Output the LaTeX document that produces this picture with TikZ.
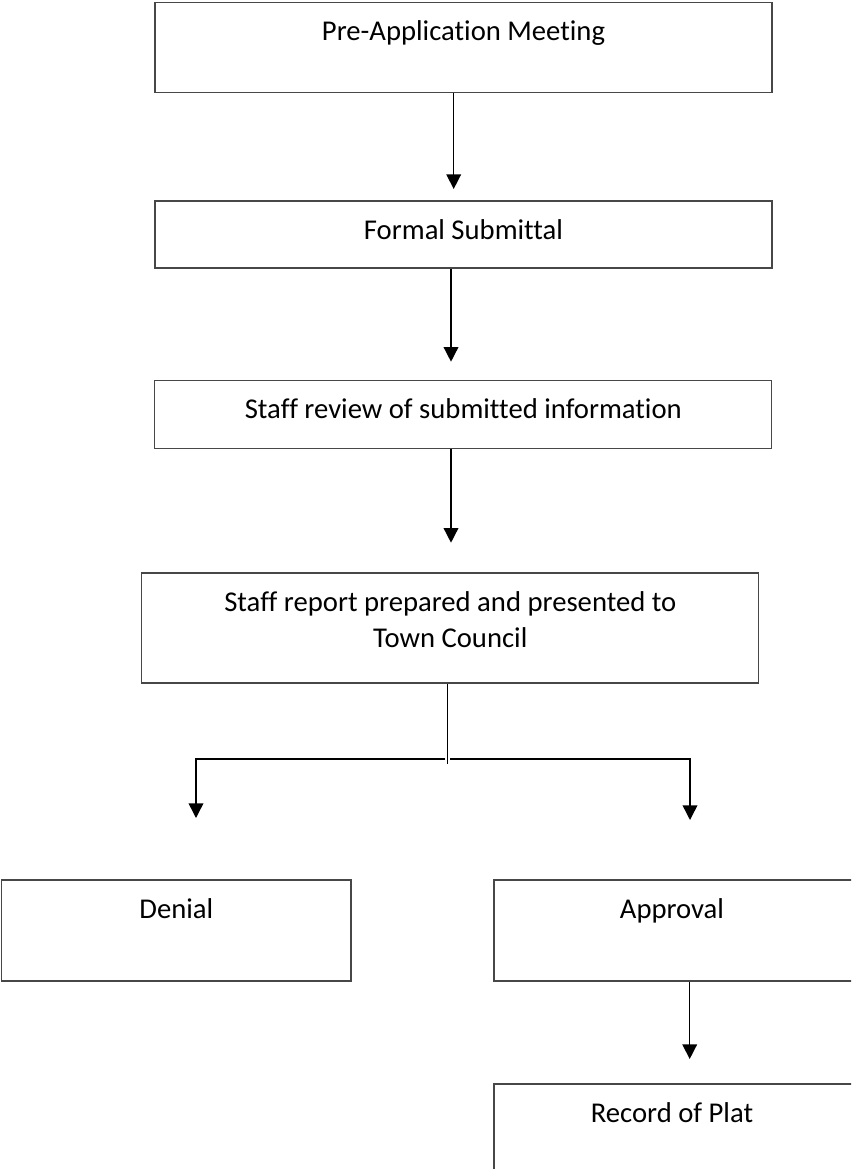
\documentclass[tikz,border=0pt]{standalone}
\usepackage{fontspec}
\setmainfont{Carlito}[Ligatures={NoCommon}]
\usetikzlibrary{arrows.meta,positioning}

\begin{document}
\begin{tikzpicture}[
    x=0.75pt, y=-0.75pt,
    stepbox/.style={draw=black!72, line width=0.9pt, inner sep=0pt,
      minimum width=462.75pt},
    sidebox/.style={stepbox, minimum width=285pt, minimum height=75.75pt},
    caption/.style={font=\fontsize{21.5}{27}\selectfont, align=center,
      inner sep=0pt, anchor=north},
    arr/.style={-{Triangle[length=11pt, width=11pt]}, line width=1.1pt},
    stem/.style={line width=0.8pt},
  ]
  \useasboundingbox (0,0) rectangle (851,1169);
  \clip (0,0) rectangle (851,1169);

  % --- main column ---
  \node[stepbox, minimum height=67.5pt] (pre) at (463.5,47.7) {};
  \node[caption, below=14pt of pre.north] (preText) {Pre-Application Meeting};

  \node[stepbox, minimum height=50.25pt] (formal) at (463.5,234.5) {};
  \node[caption, below=14pt of formal.north] (formalText) {Formal Submittal};

  \node[stepbox, minimum height=50.7pt] (review) at (463.3,414.5) {};
  \node[caption, below=14pt of review.north] (reviewText)
    {Staff review of submitted information};

  \node[stepbox, minimum height=82.5pt] (report) at (450.3,628) {};
  \node[caption, below=14pt of report.north] (reportText)
    {Staff report prepared and presented to\\Town Council};

  % --- outcomes ---
  \node[sidebox, minimum width=262pt] (denial) at (176.3,930.5) {};
  \node[caption, below=14pt of denial.north] (denialText) {Denial};

  \node[sidebox] (approval) at (684,930.5) {};
  \node[caption, below=14pt of approval.north, xshift=-9pt] (approvalText)
    {Approval};

  \node[sidebox] (record) at (684,1134.5) {};
  \node[caption, below=14pt of record.north, xshift=-9pt] (recordText)
    {Record of Plat};

  % arrow tips and the split point
  \coordinate (tip1) at (453.7,189);
  \coordinate (tip2) at (451,361.7);
  \coordinate (tip3) at (451,542.7);
  \coordinate (split) at (447.7,759);
  \coordinate (stemEnd) at (447.7,764);
  \coordinate (tipL) at (196,818);
  \coordinate (tipR) at (690,820);
  \coordinate (tip4) at (689.7,1059);

  \draw[arr] (pre.south -| tip1) -- (tip1);
  \draw[arr] (formal.south -| tip2) -- (tip2);
  \draw[arr] (review.south -| tip3) -- (tip3);

  % decision split
  \draw[stem] (report.south -| stemEnd) -- (stemEnd);
  \draw[arr, shorten <=1.8pt] (split) -| (tipL);
  \draw[arr, shorten <=1.8pt] (split) -| (tipR);

  \draw[arr] (approval.south -| tip4) -- (tip4);

\end{tikzpicture}
\end{document}
